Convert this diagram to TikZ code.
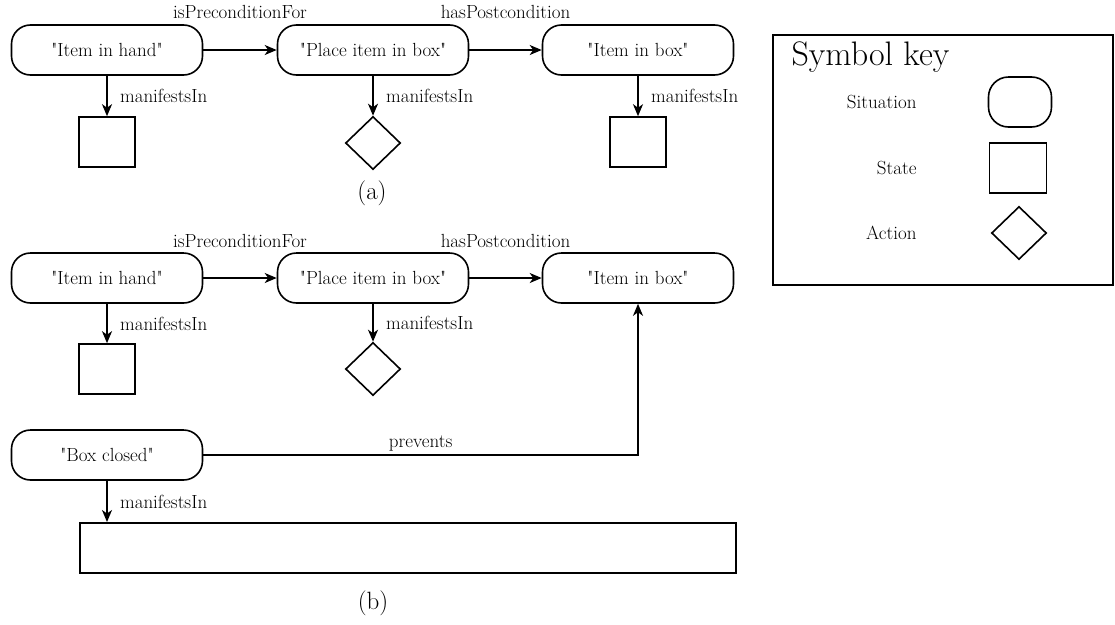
\documentclass[tikz,border=0pt]{standalone}
\usepackage{fontspec}
\setmainfont{Latin Modern Roman}
\usetikzlibrary{arrows.meta,shapes.geometric}
\newcommand\dq{\textquotedbl}

\begin{document}
\begin{tikzpicture}[x=1pt,y=-1pt,
  every node/.style={font=\fontsize{19}{22}\selectfont},
  situation/.style={draw, line width=1.6pt, rounded corners=19pt,
    minimum width=191pt, minimum height=50pt, inner sep=0pt},
  statebox/.style={draw, line width=1.6pt, minimum width=56pt,
    minimum height=50pt, inner sep=0pt},
  actionbox/.style={draw, diamond, line width=1.6pt, minimum width=55pt,
    minimum height=53pt, inner sep=0pt},
  link/.style={line width=1.6pt, -{Stealth[length=12pt,width=10pt,inset=3.5pt]}},
  rel/.style={anchor=base, yshift=32pt},
  manif/.style={midway, anchor=west, xshift=9pt},
  caption/.style={font=\fontsize{25}{29}\selectfont}]
\useasboundingbox (0,0) rectangle (1115,624);

% ---------- (a) ----------
\node[situation] (a1) at (107,50) {\dq Item in hand\dq};
\node[situation] (a2) at (373,50) {\dq Place item in box\dq};
\node[situation] (a3) at (638,50) {\dq Item in box\dq};
\node[statebox] (as1) at (107,142) {};
\node[actionbox] (aa2) at (373,143) {};
\node[statebox] (as3) at (638,142) {};

\draw[link] (a1) -- node[midway, rel] {isPreconditionFor} (a2);
\draw[link] (a2) -- node[midway, rel] {hasPostcondition} (a3);
\draw[link] (a1.south) -- node[manif] {manifestsIn} (as1.north);
\draw[link] (a2.south) -- node[manif] {manifestsIn} (aa2.north);
\draw[link] (a3.south) -- node[manif] {manifestsIn} (as3.north);

\node[caption] (capa) at (372,193) {(a)};

% ---------- (b) ----------
\node[situation] (b1) at (107,278) {\dq Item in hand\dq};
\node[situation] (b2) at (373,278) {\dq Place item in box\dq};
\node[situation] (b3) at (638,278) {\dq Item in box\dq};
\node[statebox] (bs1) at (107,369) {};
\node[actionbox] (ba2) at (373,369) {};
\node[situation] (bc) at (107,455) {\dq Box closed\dq};
\node[draw, line width=1.6pt, minimum width=656pt, minimum height=50pt,
  inner sep=0pt, anchor=north west] (bstate) at (79,522) {};

\draw[link] (b1) -- node[midway, rel, yshift=-1pt] {isPreconditionFor} (b2);
\draw[link] (b2) -- node[midway, rel, yshift=-1pt] {hasPostcondition} (b3);
\draw[link] (b1.south) -- node[manif] {manifestsIn} (bs1.north);
\draw[link] (b2.south) -- node[manif] {manifestsIn} (ba2.north);
\draw[link] (bc.south) -- node[manif] {manifestsIn} (bstate.north west -| bc.south);
\draw[link] (bc.east) -| node[pos=0.25, anchor=base, yshift=8pt] {prevents} (b3.south);

\node[caption] (capb) at (373,603) {(b)};

% ---------- symbol key ----------
\node[draw, line width=1.6pt, minimum width=340pt, minimum height=250pt,
  inner sep=0pt, anchor=north west] (key) at (772,34) {};
\node[anchor=base west, font=\fontsize{34}{38}\selectfont] (keytitle) at (788,65) {Symbol key};
\node[anchor=east] (ksit) at (920,102) {Situation};
\node[anchor=east] (kstate) at (920,168) {State};
\node[anchor=east] (kact) at (920,233) {Action};
\node[draw, line width=1.6pt, rounded corners=20pt, minimum width=63pt,
  minimum height=50pt, inner sep=0pt] (ksitshape) at (1020,102) {};
\node[statebox, minimum width=57pt] (kstateshape) at (1018,168) {};
\node[actionbox] (kactshape) at (1019,233) {};
\end{tikzpicture}
\end{document}
